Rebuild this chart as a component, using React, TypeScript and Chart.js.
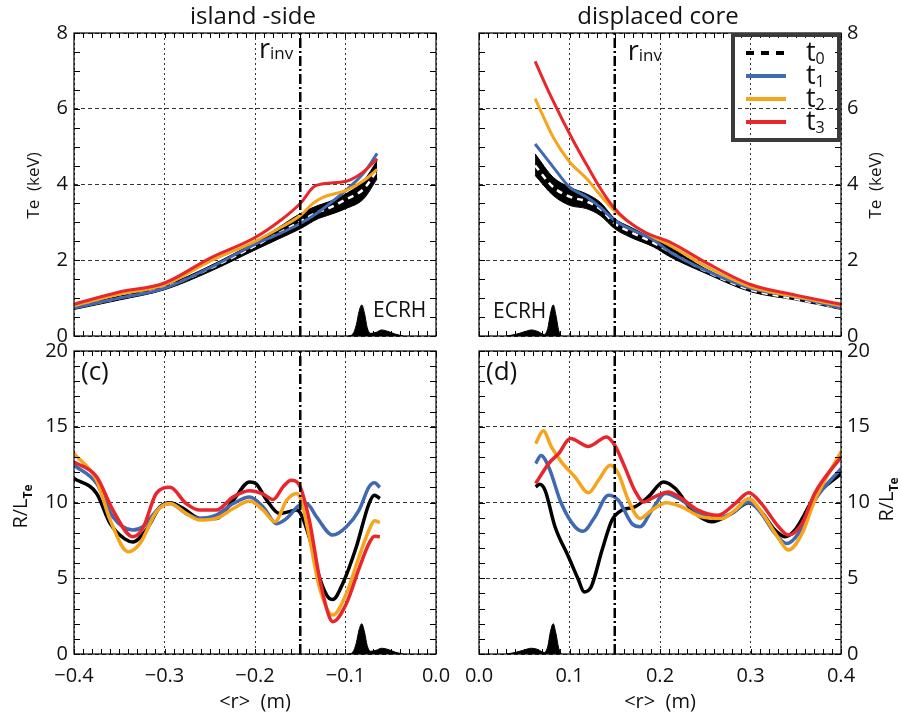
import React, { useEffect, useRef } from 'react';
import { Chart, registerables } from 'chart.js';

Chart.register(...registerables);

const FONT = '"Open Sans", "DejaVu Sans", sans-serif';

// ---------- labels ----------
const panelTitles = ['island -side', 'displaced core'];
const legendNames = ['t', 't', 't', 't'];
const legendSubs = ['0', '1', '2', '3'];
const R_INV = 0.15;

// ---------- colours ----------
const C_BLUE = '#4169b1';
const C_ORANGE = '#f7a41d';
const C_RED = '#e8262b';
const C_BLACK = '#000000';

// ---------- Te, island side (keV) ----------
const teIslX = [-0.4, -0.35, -0.3, -0.25, -0.2, -0.175, -0.15, -0.13, -0.12, -0.1, -0.08, -0.065];
const teIslT0 = [0.75, 1.0, 1.28, 1.78, 2.38, 2.7, 3.02, 3.28, 3.36, 3.6, 3.88, 4.38];
const teIslT0Upper = [0.8, 1.05, 1.33, 1.85, 2.48, 2.85, 3.23, 3.45, 3.53, 3.75, 4.1, 4.63];
const teIslT0Lower = [0.7, 0.95, 1.22, 1.7, 2.27, 2.55, 2.83, 3.1, 3.18, 3.36, 3.62, 4.15];
const teIslT1 = [0.74, 1.0, 1.26, 1.8, 2.42, 2.68, 2.97, 3.27, 3.45, 3.84, 4.3, 4.82];
const teIslT2X = [-0.4, -0.35, -0.3, -0.25, -0.2, -0.175, -0.15, -0.136, -0.125, -0.1, -0.08, -0.065];
const teIslT2 = [0.8, 1.1, 1.35, 1.97, 2.5, 2.82, 3.18, 3.5, 3.66, 3.84, 4.1, 4.4];
const teIslT3X = [-0.4, -0.35, -0.3, -0.25, -0.2, -0.172, -0.15, -0.133, -0.1, -0.081, -0.065];
const teIslT3 = [0.84, 1.16, 1.4, 2.05, 2.6, 3.05, 3.5, 3.97, 4.08, 4.32, 4.68];

// ---------- Te, displaced core (keV) ----------
const teCoreX = [0.062, 0.082, 0.1, 0.119, 0.134, 0.15, 0.167, 0.193, 0.211, 0.25, 0.3, 0.35, 0.4];
const teCoreT0 = [4.5, 3.93, 3.68, 3.55, 3.35, 2.97, 2.75, 2.46, 2.22, 1.72, 1.22, 0.98, 0.73];
const teCoreT0Upper = [4.81, 4.19, 3.93, 3.75, 3.53, 3.1, 2.88, 2.57, 2.35, 1.78, 1.27, 1.0, 0.76];
const teCoreT0Lower = [4.24, 3.71, 3.45, 3.36, 3.18, 2.83, 2.61, 2.35, 2.09, 1.66, 1.17, 0.95, 0.7];
const teCoreT1 = [5.07, 4.46, 3.93, 3.67, 3.4, 3.05, 2.83, 2.53, 2.22, 1.74, 1.26, 1.03, 0.74];
const teCoreT2X = [0.062, 0.07, 0.082, 0.1, 0.119, 0.134, 0.15, 0.167, 0.193, 0.211, 0.25, 0.3, 0.35, 0.4];
const teCoreT2 = [6.27, 5.85, 5.25, 4.6, 4.15, 3.72, 3.3, 2.98, 2.61, 2.39, 1.85, 1.3, 1.04, 0.8];
const teCoreT3X = [0.062, 0.08, 0.104, 0.119, 0.134, 0.148, 0.163, 0.185, 0.211, 0.25, 0.3, 0.35, 0.4];
const teCoreT3 = [7.25, 6.3, 5.16, 4.52, 3.9, 3.42, 3.06, 2.72, 2.48, 1.95, 1.36, 1.08, 0.84];

// ---------- R/L_Te, island side ----------
const rltIslT0X = [-0.4, -0.375, -0.36, -0.344, -0.335, -0.32, -0.305, -0.294, -0.279, -0.261, -0.243, -0.224, -0.206, -0.199, -0.187, -0.173, -0.162, -0.154, -0.149, -0.14, -0.129, -0.118, -0.114, -0.103, -0.088, -0.074, -0.068, -0.062];
const rltIslT0 = [11.58, 10.6, 8.6, 7.6, 7.4, 8.2, 9.7, 9.98, 9.6, 8.95, 8.95, 10.15, 11.36, 11.25, 10.15, 9.27, 9.4, 9.5, 9.2, 7.7, 5.1, 3.67, 3.6, 4.66, 7.08, 9.93, 10.48, 10.26];
const rltIslT1X = [-0.4, -0.375, -0.357, -0.335, -0.324, -0.305, -0.294, -0.276, -0.261, -0.243, -0.224, -0.206, -0.191, -0.176, -0.165, -0.151, -0.143, -0.132, -0.114, -0.099, -0.085, -0.074, -0.068, -0.062];
const rltIslT1 = [12.46, 11.25, 9.05, 8.18, 8.4, 9.7, 9.93, 9.27, 8.95, 9.16, 9.93, 10.37, 9.71, 8.6, 8.95, 9.82, 9.93, 9.05, 7.85, 8.4, 9.5, 11.03, 11.3, 11.0];
const rltIslT2X = [-0.4, -0.375, -0.36, -0.34, -0.327, -0.309, -0.294, -0.276, -0.261, -0.243, -0.224, -0.206, -0.191, -0.178, -0.165, -0.154, -0.149, -0.14, -0.129, -0.114, -0.099, -0.085, -0.074, -0.068, -0.062];
const rltIslT2 = [13.23, 11.47, 8.84, 6.75, 7.3, 9.38, 9.93, 9.27, 8.84, 8.95, 9.6, 10.1, 9.5, 8.73, 10.15, 10.6, 10.15, 7.74, 4.44, 2.57, 4.0, 6.42, 8.18, 8.8, 8.68];
const rltIslT3X = [-0.4, -0.375, -0.357, -0.335, -0.324, -0.309, -0.294, -0.276, -0.261, -0.243, -0.224, -0.206, -0.191, -0.18, -0.169, -0.16, -0.151, -0.14, -0.129, -0.118, -0.114, -0.099, -0.085, -0.074, -0.068, -0.062];
const rltIslT3 = [12.68, 11.7, 9.5, 7.74, 8.29, 10.6, 11.0, 9.93, 9.5, 9.5, 10.37, 10.77, 10.55, 10.2, 11.03, 11.47, 11.14, 8.84, 5.1, 2.46, 2.13, 3.34, 5.65, 7.3, 7.78, 7.74];

// ---------- R/L_Te, displaced core ----------
const rltCoreT0X = [0.0626, 0.067, 0.073, 0.084, 0.099, 0.11, 0.116, 0.124, 0.136, 0.147, 0.158, 0.172, 0.187, 0.204, 0.217, 0.235, 0.257, 0.279, 0.298, 0.312, 0.327, 0.338, 0.349, 0.371, 0.4];
const rltCoreT0 = [11.03, 11.2, 10.8, 8.4, 6.4, 4.88, 4.1, 4.44, 6.86, 8.84, 9.5, 9.71, 10.37, 11.36, 10.92, 9.5, 8.73, 9.27, 9.98, 9.38, 8.18, 7.74, 8.18, 10.37, 11.9];
const rltCoreT1X = [0.0626, 0.0685, 0.077, 0.091, 0.106, 0.115, 0.128, 0.143, 0.154, 0.169, 0.178, 0.191, 0.206, 0.224, 0.242, 0.261, 0.279, 0.298, 0.312, 0.327, 0.34, 0.353, 0.371, 0.4];
const rltCoreT1 = [12.57, 13.1, 12.35, 9.93, 8.4, 8.1, 9.05, 10.48, 10.15, 8.6, 8.4, 9.5, 10.6, 10.15, 9.38, 8.95, 9.27, 10.04, 9.27, 7.96, 7.3, 7.96, 10.15, 12.24];
const rltCoreT2X = [0.0626, 0.071, 0.08, 0.091, 0.106, 0.121, 0.132, 0.145, 0.154, 0.165, 0.178, 0.191, 0.207, 0.224, 0.246, 0.268, 0.283, 0.298, 0.312, 0.331, 0.342, 0.357, 0.371, 0.4];
const rltCoreT2 = [13.89, 14.73, 13.67, 12.68, 11.69, 10.64, 11.47, 12.46, 11.91, 10.15, 8.95, 9.5, 9.98, 9.71, 9.05, 8.95, 9.5, 10.26, 9.38, 7.63, 6.86, 7.96, 10.15, 13.34];
const rltCoreT3X = [0.0626, 0.077, 0.088, 0.101, 0.121, 0.141, 0.15, 0.161, 0.172, 0.182, 0.194, 0.209, 0.224, 0.242, 0.264, 0.283, 0.298, 0.312, 0.331, 0.342, 0.357, 0.371, 0.4];
const rltCoreT3 = [11.25, 12.57, 13.23, 14.22, 13.7, 14.33, 13.78, 12.35, 10.81, 10.04, 10.37, 10.7, 10.26, 9.5, 9.16, 9.93, 10.64, 9.93, 8.4, 7.85, 8.62, 10.6, 13.0];

// ---------- ECRH deposition profiles (arb., in panel units) ----------
const ecrhIslX = [-0.097, -0.092, -0.088, -0.085, -0.082, -0.079, -0.076, -0.072, -0.066, -0.06, -0.053, -0.045, -0.036];
const ecrhIslTe = [0, 0.05, 0.3, 0.65, 0.82, 0.6, 0.22, 0.07, 0.1, 0.16, 0.12, 0.05, 0];
const ecrhIslRlt = [0, 0.12, 0.75, 1.6, 2.0, 1.45, 0.55, 0.18, 0.25, 0.38, 0.3, 0.12, 0];
const ecrhCoreX = [0.03, 0.04, 0.05, 0.058, 0.065, 0.072, 0.076, 0.079, 0.082, 0.085, 0.088, 0.091];
const ecrhCoreTe = [0, 0.04, 0.11, 0.16, 0.12, 0.04, 0.2, 0.6, 0.82, 0.55, 0.15, 0];
const ecrhCoreRlt = [0, 0.1, 0.27, 0.38, 0.3, 0.1, 0.5, 1.5, 2.0, 1.35, 0.4, 0];

// ---------- helpers ----------
const pts = (xs: number[], ys: number[]) => xs.map((x, i) => ({ x, y: ys[i] }));

type Part = { t: string; size: number; dy?: number; weight?: string };

function drawParts(ctx: CanvasRenderingContext2D, x: number, y: number, parts: Part[], align: 'left' | 'center' | 'right', rotate = false) {
  ctx.save();
  ctx.translate(x, y);
  if (rotate) ctx.rotate(-Math.PI / 2);
  ctx.textBaseline = 'alphabetic';
  ctx.textAlign = 'left';
  const widths = parts.map((p) => {
    ctx.font = `${p.weight || 'normal'} ${p.size}px ${FONT}`;
    return ctx.measureText(p.t).width;
  });
  const total = widths.reduce((a, b) => a + b, 0);
  let cx = align === 'left' ? 0 : align === 'center' ? -total / 2 : -total;
  parts.forEach((p, i) => {
    ctx.font = `${p.weight || 'normal'} ${p.size}px ${FONT}`;
    ctx.fillStyle = '#111';
    ctx.fillText(p.t, cx, p.dy || 0);
    cx += widths[i];
  });
  ctx.restore();
}

type PanelDef = {
  kind: 'te' | 'rlt';
  side: 'isl' | 'core';
};

function makeDecor(p: PanelDef) {
  return {
    id: 'decor',
    afterDraw(chart: any) {
      const ctx: CanvasRenderingContext2D = chart.ctx;
      const { left, right, top, bottom } = chart.chartArea;
      const xs = chart.scales.x;
      const ys = chart.scales.y;
      ctx.save();
      // frame
      ctx.strokeStyle = '#000';
      ctx.lineWidth = 1.2;
      ctx.strokeRect(left, top, right - left, bottom - top);
      // inward minor ticks on all sides
      const minorX = 0.01;
      const minorY = p.kind === 'te' ? 0.5 : 1;
      ctx.beginPath();
      const nx = Math.round((xs.max - xs.min) / minorX);
      for (let i = 0; i <= nx; i++) {
        const px = Math.round(xs.getPixelForValue(xs.min + i * minorX)) + 0.5;
        ctx.moveTo(px, bottom);
        ctx.lineTo(px, bottom - 5);
        ctx.moveTo(px, top);
        ctx.lineTo(px, top + 5);
      }
      const ny = Math.round((ys.max - ys.min) / minorY);
      for (let i = 0; i <= ny; i++) {
        const py = Math.round(ys.getPixelForValue(ys.min + i * minorY)) + 0.5;
        ctx.moveTo(left, py);
        ctx.lineTo(left + 6, py);
        ctx.moveTo(right, py);
        ctx.lineTo(right - 6, py);
      }
      ctx.lineWidth = 1;
      ctx.stroke();

      const isLeft = p.side === 'isl';
      const midY = (top + bottom) / 2;
      // panel title
      if (p.kind === 'te') {
        drawParts(ctx, (left + right) / 2 - 2, top - 9, [{ t: panelTitles[isLeft ? 0 : 1], size: 24 }], 'center');
      }
      // y-axis title (reads bottom to top on both sides)
      if (p.kind === 'te') {
        drawParts(ctx, isLeft ? left - 35 : right + 40, midY + 1, [{ t: 'Te  (keV)', size: 17 }], 'center', true);
      } else {
        drawParts(
          ctx,
          isLeft ? left - 47 : right + 52,
          midY + (isLeft ? 4 : -3),
          [
            { t: 'R/L', size: 20 },
            { t: 'Te', size: 12, dy: 5, weight: 'bold' },
          ],
          'center',
          true
        );
        // panel letter
        drawParts(ctx, left + 7, top + 29, [{ t: isLeft ? '(c)' : '(d)', size: 26 }], 'left');
      }
      // r_inv label
      if (p.kind === 'te') {
        const lx = xs.getPixelForValue(isLeft ? -R_INV : R_INV);
        const parts: Part[] = [
          { t: 'r', size: 27 },
          { t: 'inv', size: 17, dy: 1 },
        ];
        if (isLeft) drawParts(ctx, lx - 7, top + 25, parts, 'right');
        else drawParts(ctx, lx + 13, top + 27, parts, 'left');
        // ECRH label
        if (isLeft) drawParts(ctx, right - 63, bottom - 19, [{ t: 'ECRH', size: 21 }], 'left');
        else drawParts(ctx, left + 14, bottom - 18, [{ t: 'ECRH', size: 21 }], 'left');
      }
      // legend
      if (p.kind === 'te' && !isLeft) {
        ctx.strokeStyle = '#3a3a3a';
        ctx.lineWidth = 4;
        ctx.strokeRect(right - 108, top + 2, 106, 105);
        const cols = [C_BLACK, C_BLUE, C_ORANGE, C_RED];
        legendNames.forEach((nm, i) => {
          const y = top + 20 + i * 23;
          ctx.beginPath();
          ctx.strokeStyle = cols[i];
          ctx.lineWidth = 4;
          ctx.setLineDash(i === 0 ? [8, 7] : []);
          ctx.moveTo(right - 95, y);
          ctx.lineTo(right - 55, y);
          ctx.stroke();
          ctx.setLineDash([]);
          drawParts(
            ctx,
            right - 35,
            y + 8,
            [
              { t: nm, size: 27 },
              { t: legendSubs[i], size: 16, dy: 3 },
            ],
            'left'
          );
        });
      }
      ctx.restore();
    },
  };
}

function line(data: { x: number; y: number }[], color: string, width: number, order: number, extra: any = {}) {
  return {
    data,
    borderColor: color,
    backgroundColor: color,
    borderWidth: width,
    pointRadius: 0,
    cubicInterpolationMode: 'monotone',
    fill: false,
    order,
    ...extra,
  };
}

function buildConfig(p: PanelDef): any {
  const isLeft = p.side === 'isl';
  const isTe = p.kind === 'te';
  const ymax = isTe ? 8 : 20;
  const rinv = isLeft ? -R_INV : R_INV;
  const datasets: any[] = [];
  const lw = isTe ? 3 : 3.5;

  // r_inv dash-dot line
  datasets.push(
    line(pts([rinv, rinv], [0, ymax]), '#000', 2.5, 0, { borderDash: [10, 3, 2, 3], cubicInterpolationMode: 'default', tension: 0 })
  );

  if (isTe) {
    const bx = isLeft ? teIslX : teCoreX;
    const t3 = isLeft ? pts(teIslT3X, teIslT3) : pts(teCoreT3X, teCoreT3);
    const t2 = isLeft ? pts(teIslT2X, teIslT2) : pts(teCoreT2X, teCoreT2);
    const t1 = isLeft ? pts(teIslX, teIslT1) : pts(teCoreX, teCoreT1);
    datasets.push(line(t3, C_RED, lw, 1));
    datasets.push(line(t2, C_ORANGE, lw, 2));
    datasets.push(line(t1, C_BLUE, lw, 3));
    datasets.push(line(pts(bx, isLeft ? teIslT0 : teCoreT0), '#ffffff', 2.5, 4, { borderDash: [6, 5] }));
    datasets.push(
      line(pts(bx, isLeft ? teIslT0Upper : teCoreT0Upper), C_BLACK, 1, 5, { fill: '+1', backgroundColor: C_BLACK })
    );
    datasets.push(line(pts(bx, isLeft ? teIslT0Lower : teCoreT0Lower), C_BLACK, 1, 6));
    datasets.push(
      line(pts(isLeft ? ecrhIslX : ecrhCoreX, isLeft ? ecrhIslTe : ecrhCoreTe), C_BLACK, 1, 7, {
        fill: 'origin',
        backgroundColor: C_BLACK,
      })
    );
  } else {
    datasets.push(line(isLeft ? pts(rltIslT3X, rltIslT3) : pts(rltCoreT3X, rltCoreT3), C_RED, lw, 1));
    datasets.push(line(isLeft ? pts(rltIslT2X, rltIslT2) : pts(rltCoreT2X, rltCoreT2), C_ORANGE, lw, 2));
    datasets.push(line(isLeft ? pts(rltIslT1X, rltIslT1) : pts(rltCoreT1X, rltCoreT1), C_BLUE, lw, 3));
    datasets.push(line(isLeft ? pts(rltIslT0X, rltIslT0) : pts(rltCoreT0X, rltCoreT0), C_BLACK, lw, 4));
    datasets.push(
      line(pts(isLeft ? ecrhIslX : ecrhCoreX, isLeft ? ecrhIslRlt : ecrhCoreRlt), C_BLACK, 1, 7, {
        fill: 'origin',
        backgroundColor: C_BLACK,
      })
    );
  }

  // chart areas: top panels y 33..336, bottom 351..654; left x 74..436, right 479..841
  const W = 898;
  const H = 717;
  const areaLeft = isLeft ? 74 : 479;
  const areaRight = isLeft ? 436 : 841;
  const areaTop = isTe ? 33 : 351;
  const areaBottom = isTe ? 336 : 654;
  const yAxisW = isLeft ? 74 : W - 841;
  const xAxisH = isTe ? 0 : H - 654;

  const fmtX = (v: any) => {
    const n = Number(v);
    if (Math.abs(n) < 1e-9) return '0.0';
    return (n < 0 ? '\u2212' : '') + Math.abs(n).toFixed(1);
  };

  return {
    type: 'line',
    data: { datasets },
    plugins: [makeDecor(p)],
    options: {
      responsive: false,
      animation: false,
      devicePixelRatio: 1,
      events: [],
      layout: {
        padding: {
          left: isLeft ? 0 : areaLeft,
          right: isLeft ? W - areaRight : 0,
          top: areaTop,
          bottom: isTe ? H - areaBottom : 0,
        },
      },
      plugins: {
        legend: { display: false },
        tooltip: { enabled: false },
        title: { display: false },
      },
      scales: {
        x: {
          type: 'linear',
          position: 'bottom',
          min: isLeft ? -0.4 : 0,
          max: isLeft ? 0 : 0.4,
          ticks: {
            display: !isTe,
            stepSize: 0.1,
            callback: fmtX,
            font: { family: FONT, size: 20 },
            color: '#111',
            padding: 10,
            maxRotation: 0,
            autoSkip: false,
          },
          grid: { color: '#000', lineWidth: 0.8, drawTicks: false },
          border: { display: false, dash: [2, 3] },
          title: {
            display: !isTe,
            text: '<r>  (m)',
            font: { family: FONT, size: 20 },
            color: '#111',
            padding: { top: 0, bottom: 3 },
          },
          afterFit: (s: any) => {
            s.height = xAxisH;
          },
        },
        y: {
          type: 'linear',
          position: isLeft ? 'left' : 'right',
          min: 0,
          max: ymax,
          ticks: {
            stepSize: isTe ? 2 : 5,
            font: { family: FONT, size: 20 },
            color: '#111',
            padding: 6,
          },
          grid: { color: '#000', lineWidth: 0.8, drawTicks: false },
          border: { display: false, dash: [4, 3] },
          afterFit: (s: any) => {
            s.width = yAxisW;
          },
        },
      },
    },
  };
}

const PANELS: PanelDef[] = [
  { kind: 'te', side: 'isl' },
  { kind: 'te', side: 'core' },
  { kind: 'rlt', side: 'isl' },
  { kind: 'rlt', side: 'core' },
];

export default function App() {
  const refs = useRef<(HTMLCanvasElement | null)[]>([]);
  useEffect(() => {
    const charts = PANELS.map((p, i) => new Chart(refs.current[i] as HTMLCanvasElement, buildConfig(p)));
    return () => charts.forEach((c) => c.destroy());
  }, []);
  return (
    <div style={{ position: 'fixed', left: 0, top: 0, width: 898, height: 717, background: '#fff' }}>
      {PANELS.map((_, i) => (
        <canvas
          key={i}
          ref={(el) => {
            refs.current[i] = el;
          }}
          width={898}
          height={717}
          style={{ position: 'absolute', left: 0, top: 0, width: 898, height: 717 }}
        />
      ))}
    </div>
  );
}
